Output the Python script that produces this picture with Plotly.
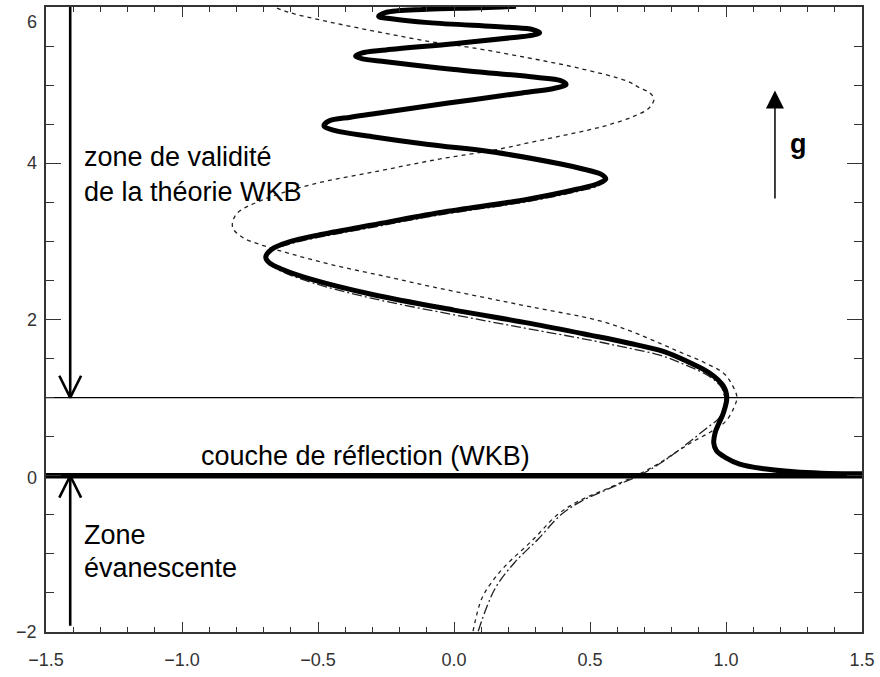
import plotly.graph_objects as go

# ---------------- data ----------------
solid_x = [1.50, 1.35, 1.25, 1.14, 1.05, 1.00, 0.965, 0.955, 0.96, 0.975, 0.99, 1.003, 0.99, 0.942, 0.86,
           0.772, 0.64, 0.50, 0.28, 0.00, -0.30, -0.52, -0.63, -0.68, -0.692, -0.67, -0.60, -0.50, -0.30,
           -0.05, 0.272, 0.455, 0.53, 0.558, 0.54, 0.47, 0.393, 0.15, -0.094, -0.30, -0.44, -0.478, -0.46,
           -0.38, -0.30, -0.021, 0.25, 0.37, 0.412, 0.39, 0.30, 0.00, -0.25, -0.34, -0.362, -0.34, -0.25,
           0.00, 0.22, 0.29, 0.315, 0.29, 0.20, -0.094, -0.23, -0.277, -0.25, -0.10, 0.10, 0.228]
solid_y = [0.025, 0.032, 0.05, 0.09, 0.15, 0.23, 0.32, 0.42, 0.55, 0.68, 0.80, 1.00, 1.15, 1.31, 1.46,
           1.59, 1.70, 1.80, 1.95, 2.12, 2.32, 2.51, 2.64, 2.73, 2.80, 2.90, 3.00, 3.08, 3.21,
           3.37, 3.54, 3.67, 3.74, 3.80, 3.86, 3.93, 3.99, 4.14, 4.24, 4.34, 4.42, 4.48, 4.54,
           4.59, 4.63, 4.77, 4.90, 4.96, 5.01, 5.06, 5.10, 5.20, 5.30, 5.34, 5.37, 5.41, 5.45,
           5.53, 5.61, 5.64, 5.67, 5.71, 5.74, 5.80, 5.85, 5.88, 5.93, 5.97, 5.99, 6.01]

dash_x = [0.089, 0.15, 0.223, 0.308, 0.394, 0.467, 0.589, 0.686, 0.75, 0.82, 0.89, 0.94, 0.967, 0.985,
          0.995, 0.985, 0.935, 0.85, 0.76, 0.62, 0.48, 0.26, 0.00, -0.30, -0.52, -0.63, -0.68, -0.695,
          -0.675, -0.60, -0.50, -0.30, -0.05, 0.272, 0.455, 0.53, 0.553, 0.54, 0.47, 0.393, 0.15, -0.094,
          -0.30, -0.44, -0.478]
dash_y = [-1.99, -1.45, -1.11, -0.816, -0.497, -0.328, -0.136, 0.013, 0.14, 0.31, 0.50, 0.64, 0.71, 0.80,
          0.95, 1.12, 1.28, 1.42, 1.54, 1.65, 1.75, 1.89, 2.06, 2.27, 2.47, 2.61, 2.71, 2.79,
          2.88, 2.97, 3.05, 3.18, 3.34, 3.51, 3.64, 3.71, 3.78, 3.85, 3.92, 3.98, 4.13, 4.23,
          4.33, 4.41, 4.48]

dot_x = [0.07, 0.101, 0.135, 0.187, 0.29, 0.38, 0.455, 0.58, 0.68, 0.75, 0.82, 0.88, 0.943, 1.00, 1.03,
         1.04, 1.02, 0.992, 0.92, 0.833, 0.76, 0.65, 0.528, 0.284, 0.10, -0.082, -0.25, -0.448, -0.60,
         -0.704, -0.777, -0.814, -0.80, -0.704, -0.521, -0.277, -0.06, 0.15, 0.272, 0.394, 0.50, 0.577,
         0.66, 0.715, 0.735, 0.72, 0.68, 0.638, 0.455, 0.272, 0.064, -0.094, -0.277, -0.46, -0.606, -0.661]
dot_y = [-1.99, -1.58, -1.38, -1.16, -0.82, -0.50, -0.33, -0.14, 0.02, 0.15, 0.31, 0.44, 0.56, 0.70, 0.88,
         1.01, 1.18, 1.31, 1.45, 1.58, 1.69, 1.85, 1.99, 2.16, 2.29, 2.42, 2.55, 2.70, 2.84,
         2.95, 3.05, 3.18, 3.35, 3.53, 3.73, 3.90, 4.05, 4.17, 4.26, 4.35, 4.43, 4.50,
         4.60, 4.70, 4.82, 4.90, 4.97, 5.05, 5.22, 5.35, 5.48, 5.56, 5.68, 5.81, 5.93, 6.00]

x_tick_vals = [-1.5, -1.0, -0.5, 0.0, 0.5, 1.0, 1.5]
x_tick_text = ["\u22121.5", "\u22121.0", "\u22120.5", "0.0", "0.5", "1.0", "1.5"]
y_tick_vals = [-2, 0, 2, 4, 6]
y_tick_text = ["\u22122", "0", "2", "4", "6"]
y_tick_shift = [0, -2, 0, 0, -15]

arrow_x = -1.411
g_arrow_x = 1.18
g_arrow_y = [3.53, 4.93]

fig = go.Figure()

fig.add_trace(go.Scatter(x=dot_x, y=dot_y, mode="lines", line_shape="spline",
                         line=dict(color="#222", width=1.3, dash="4px,4px"), hoverinfo="skip"))
fig.add_trace(go.Scatter(x=dash_x, y=dash_y, mode="lines", line_shape="spline",
                         line=dict(color="#222", width=1.3, dash="10px,3px,2px,3px"), hoverinfo="skip"))
fig.add_trace(go.Scatter(x=solid_x, y=solid_y, mode="lines", line_shape="spline",
                         line=dict(color="black", width=5), hoverinfo="skip"))

# horizontal lines
fig.add_trace(go.Scatter(x=[-1.5, 1.5], y=[1, 1], mode="lines", line=dict(color="black", width=1.3), hoverinfo="skip"))
fig.add_trace(go.Scatter(x=[-1.5, 1.5], y=[0, 0], mode="lines", line=dict(color="black", width=5.5), hoverinfo="skip"))

# left arrows (open V heads)
fig.add_trace(go.Scatter(x=[arrow_x, arrow_x], y=[6, 1.0], mode="lines", line=dict(color="black", width=2.6), hoverinfo="skip"))
fig.add_trace(go.Scatter(x=[arrow_x - 0.04, arrow_x, arrow_x + 0.04], y=[1.28, 1.0, 1.28], mode="lines",
                         line=dict(color="black", width=2.6), hoverinfo="skip"))
fig.add_trace(go.Scatter(x=[arrow_x, arrow_x], y=[-1.92, 0.0], mode="lines", line=dict(color="black", width=2.6), hoverinfo="skip"))
fig.add_trace(go.Scatter(x=[arrow_x - 0.04, arrow_x, arrow_x + 0.04], y=[-0.28, 0.0, -0.28], mode="lines",
                         line=dict(color="black", width=2.6), hoverinfo="skip"))

annotations = []
# g arrow
annotations.append(dict(x=g_arrow_x, y=g_arrow_y[1], ax=g_arrow_x, ay=g_arrow_y[0], xref="x", yref="y",
                        axref="x", ayref="y", showarrow=True, arrowhead=2, arrowsize=2.4, arrowwidth=1.5,
                        arrowcolor="black", text=""))
annotations.append(dict(x=1.265, y=4.25, xref="x", yref="y", text="<b>g</b>", showarrow=False,
                        font=dict(family="Liberation Sans, Arial", size=27, color="black")))

txt_font = dict(family="Liberation Sans, Arial", size=27, color="black")
annotations.append(dict(x=-1.367, y=4.08, xref="x", yref="y", text="zone de validité", showarrow=False,
                        xanchor="left", yanchor="middle", font=txt_font))
annotations.append(dict(x=-1.367, y=3.635, xref="x", yref="y", text="de la théorie WKB", showarrow=False,
                        xanchor="left", yanchor="middle", font=txt_font))
annotations.append(dict(x=-0.325, y=0.25, xref="x", yref="y", text="couche de réflection (WKB)", showarrow=False,
                        xanchor="center", yanchor="middle", font=txt_font))
annotations.append(dict(x=-1.367, y=-0.76, xref="x", yref="y", text="Zone", showarrow=False,
                        xanchor="left", yanchor="middle", font=txt_font))
annotations.append(dict(x=-1.367, y=-1.18, xref="x", yref="y", text="évanescente", showarrow=False,
                        xanchor="left", yanchor="middle", font=txt_font))

tick_font = dict(family="Liberation Sans, Arial", size=18, color="#333")
for v, t, s in zip(y_tick_vals, y_tick_text, y_tick_shift):
    annotations.append(dict(x=0, y=v, xref="paper", yref="y", text=t, showarrow=False, xanchor="right",
                            yanchor="middle", xshift=-7, yshift=s, font=tick_font))

fig.update_layout(
    width=880, height=677,
    margin=dict(l=46, r=15, t=5, b=45),
    paper_bgcolor="white", plot_bgcolor="white",
    showlegend=False,
    annotations=annotations,
)
fig.update_xaxes(range=[-1.5, 1.5], tickvals=x_tick_vals, ticktext=x_tick_text, ticks="inside", ticklen=10,
                 tickwidth=1.3, tickcolor="#333", showline=True, linecolor="#333", linewidth=1.5, mirror="ticks",
                 showgrid=False, zeroline=False, tickfont=tick_font, ticklabelstandoff=11,
                 minor=dict(dtick=0.1, ticks="inside", ticklen=5, tickwidth=1.3, tickcolor="#333", showgrid=False))
fig.update_yaxes(range=[-2, 6], tickvals=y_tick_vals, showticklabels=False, ticks="inside", ticklen=15,
                 tickwidth=1.3, tickcolor="#333", showline=True, linecolor="#333", linewidth=1.5, mirror="ticks",
                 showgrid=False, zeroline=False,
                 minor=dict(dtick=0.5, ticks="inside", ticklen=8, tickwidth=1.3, tickcolor="#333", showgrid=False))

fig.write_html("out.html")
